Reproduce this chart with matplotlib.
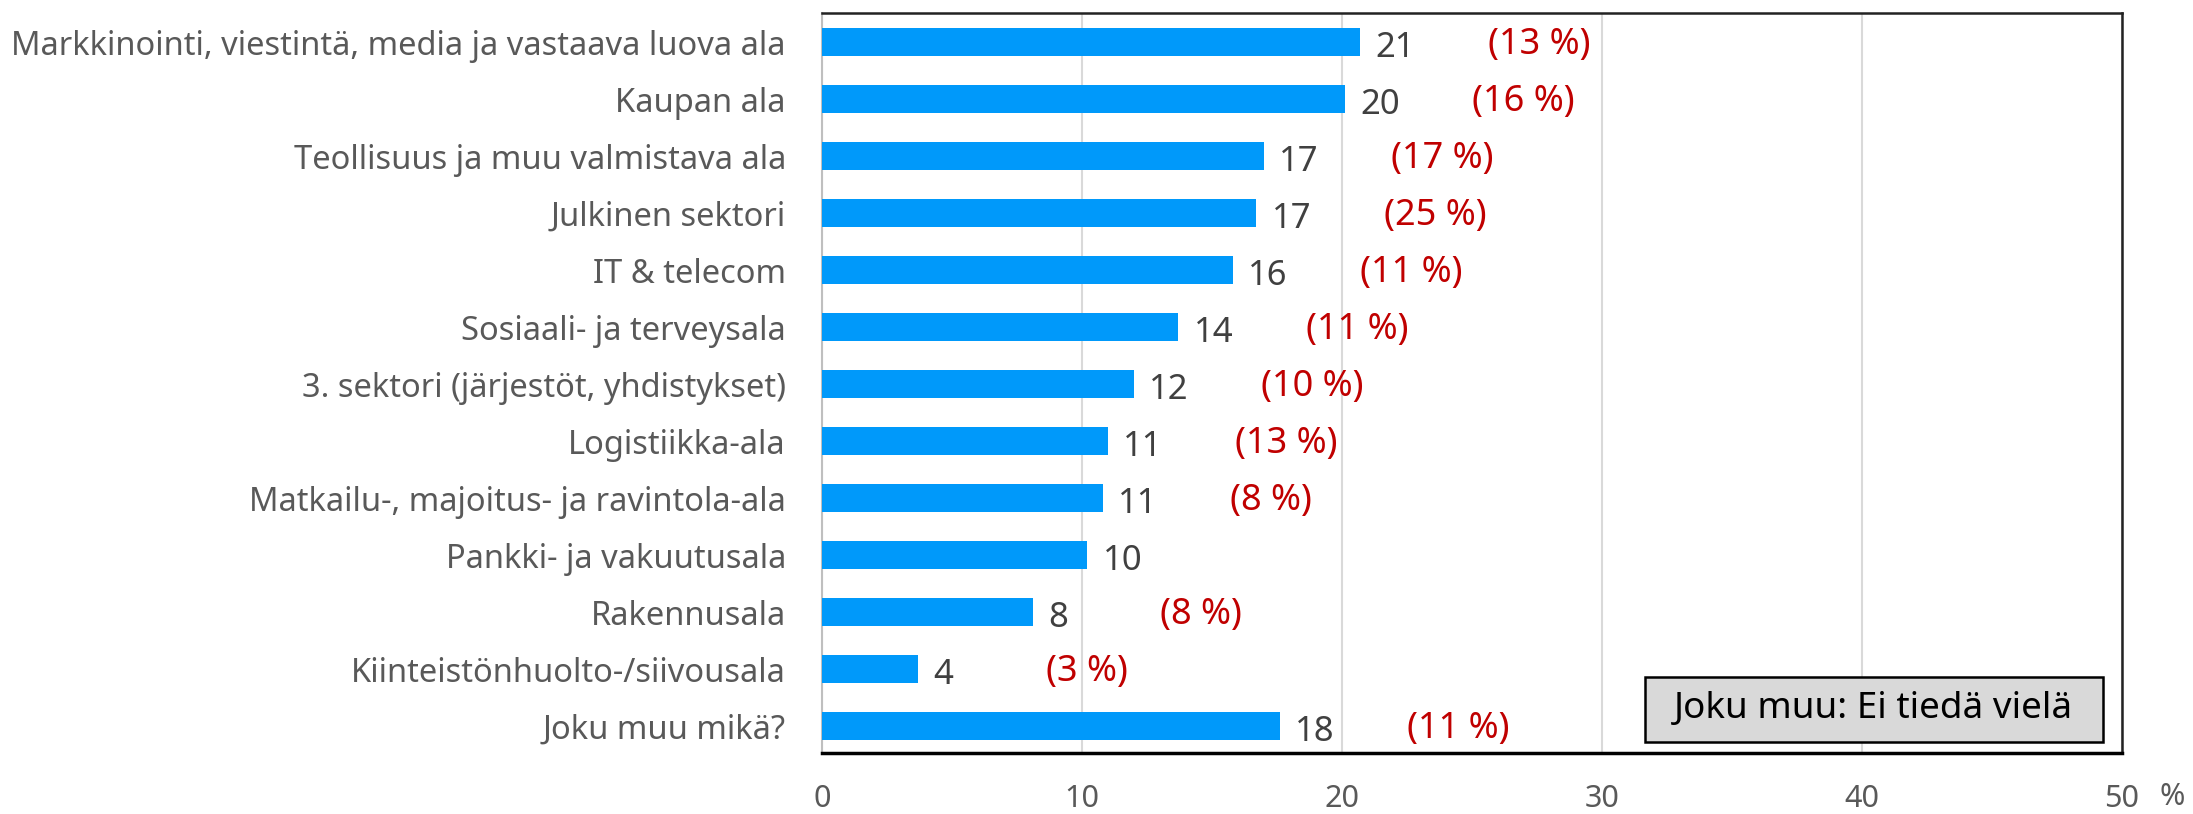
import matplotlib
matplotlib.use("Agg")
import matplotlib.pyplot as plt
from matplotlib.patches import Rectangle

plt.rcParams['font.family'] = ['Noto Sans', 'DejaVu Sans']

categories = [
    "Markkinointi, viestintä, media ja vastaava luova ala",
    "Kaupan ala",
    "Teollisuus ja muu valmistava ala",
    "Julkinen sektori",
    "IT & telecom",
    "Sosiaali- ja terveysala",
    "3. sektori (järjestöt, yhdistykset)",
    "Logistiikka-ala",
    "Matkailu-, majoitus- ja ravintola-ala",
    "Pankki- ja vakuutusala",
    "Rakennusala",
    "Kiinteistönhuolto-/siivousala",
    "Joku muu mikä?",
]
values = [20.7, 20.1, 17.0, 16.7, 15.8, 13.7, 12.0, 11.0, 10.8, 10.2, 8.1, 3.7, 17.6]
other_pct = ["(13 %)", "(16 %)", "(17 %)", "(25 %)", "(11 %)", "(11 %)", "(10 %)",
             "(13 %)", "(8 %)", None, "(8 %)", "(3 %)", "(11 %)"]
xticks = [0, 10, 20, 30, 40, 50]
box_text = "Joku muu: Ei tiedä vielä"

W, H = 2193, 814
fig = plt.figure(figsize=(W / 100, H / 100), dpi=100)
ax = fig.add_axes([822 / W, 61 / H, (2122 - 822) / W, (753 - 13) / H])

ypos = list(range(len(categories)))
ax.barh(ypos, values, height=0.49, color='#0099FA', zorder=3)

ax.set_xlim(0, 50)
ax.set_ylim(12.47, -0.51)
ax.set_xticks(xticks)
ax.set_xticklabels([str(t) for t in xticks], fontsize=22, color='#595959')
ax.set_yticks(ypos)
ax.set_yticklabels(categories, fontsize=23.5, color='#595959')
ax.tick_params(axis='x', length=0, pad=22)
ax.tick_params(axis='y', length=0, pad=26)
ax.grid(axis='x', color='#D9D9D9', linewidth=1.5, zorder=0)
ax.set_axisbelow(True)

for s in ['top', 'right']:
    ax.spines[s].set_color('#222222')
    ax.spines[s].set_linewidth(1.8)
ax.spines['bottom'].set_color('black')
ax.spines['bottom'].set_linewidth(2.5)
ax.spines['left'].set_color('#BFBFBF')
ax.spines['left'].set_linewidth(1.5)

for y, v, p in zip(ypos, values, other_pct):
    ax.annotate(f"{v:.0f}", xy=(v, y), xytext=(11, -4), textcoords='offset points',
                ha='left', va='center', fontsize=25, color='#404040')
    if p:
        ax.annotate(p, xy=(v + 4.9, y), xytext=(0, -2), textcoords='offset points',
                    ha='left', va='center', fontsize=26, color='#C00000')

# "%" after the last tick label
fig.text(2172 / W, 1 - 797 / H, "%", ha='center', va='center',
         fontsize=22, color='#595959')

# text box
ax.add_patch(Rectangle((0.633, 0.0149), 0.352, 0.0878, transform=ax.transAxes,
                       facecolor='#D9D9D9', edgecolor='black', linewidth=1.8, zorder=5))
ax.text(0.809, 0.0588, box_text, transform=ax.transAxes, ha='center', va='center',
        fontsize=26.5, color='black', zorder=6)

fig.savefig("out.png", dpi=100)
